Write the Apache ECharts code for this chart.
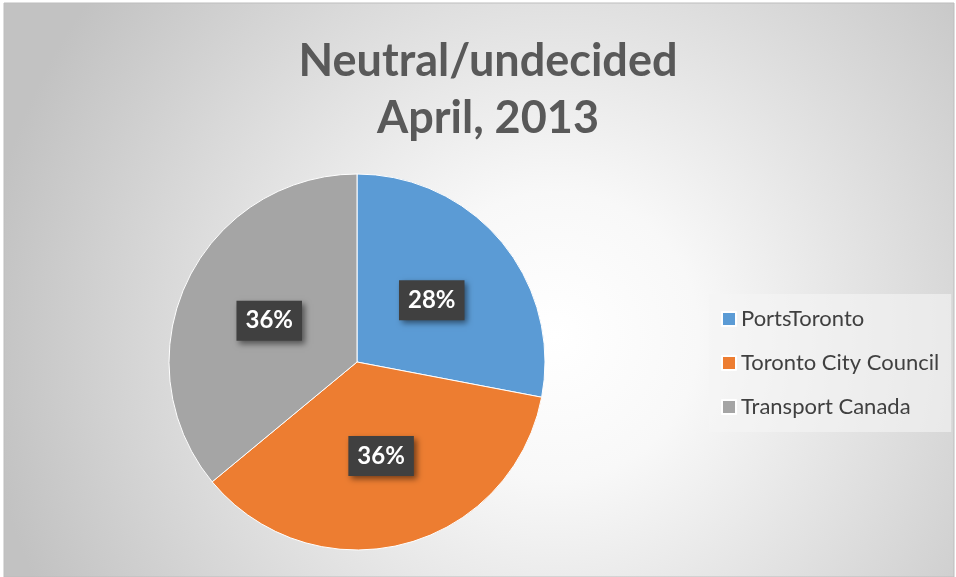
<!DOCTYPE html>
<html>
<head>
<meta charset="utf-8">
<script src="https://cdn.jsdelivr.net/npm/echarts@6/dist/echarts.min.js"></script>
<style>
	html, body { margin: 0; padding: 0; background: #ffffff; }
	#chart { width: 956px; height: 577px; }
</style>
</head>
<body>
<div id="chart"></div>
<script>
// data
const categories = ['PortsToronto', 'Toronto City Council', 'Transport Canada']
const counts = [7, 9, 9]
const colors = ['#5b9bd5', '#ed7d31', '#a5a5a5']
const titleLines = ['Neutral/undecided', 'April, 2013']

const myChart = echarts.init(document.getElementById('chart'))

const pieData = categories.map((name, i) => ({
	name: name,
	value: counts[i],
	itemStyle: { color: colors[i] }
}))

myChart.setOption({
	animation: false,
	graphic: [
		{
			type: 'rect',
			z: -10,
			shape: { x: 4, y: 3, width: 950, height: 574 },
			style: {
				fill: {
					type: 'radial',
					x: 0.58,
					y: 0.58,
					r: 1.0,
					colorStops: [
						{ offset: 0, color: '#ffffff' },
						{ offset: 0.25, color: '#f8f8f8' },
						{ offset: 1, color: '#c2c2c2' }
					]
				},
				stroke: '#bdbdbd',
				lineWidth: 1
			}
		}
	],
	title: {
		text: titleLines.join('\n'),
		left: 488,
		textAlign: 'center',
		top: 33,
		padding: 0,
		textStyle: {
			fontFamily: 'Lato',
			fontWeight: 'bold',
			fontSize: 45,
			lineHeight: 57,
			color: '#595959'
		}
	},
	legend: {
		orient: 'vertical',
		left: 709,
		top: 294,
		icon: 'rect',
		itemWidth: 14,
		itemHeight: 14,
		itemGap: 22,
		padding: [14, 12, 14, 12],
		backgroundColor: 'rgba(245,245,245,0.6)',
		textStyle: {
			fontFamily: 'Lato',
			fontSize: 22,
			color: '#404040'
		}
	},
	series: [
		{
			type: 'pie',
			center: [357, 362],
			radius: 188,
			startAngle: 90,
			clockwise: true,
			data: pieData,
			itemStyle: { borderColor: '#ffffff', borderWidth: 1 },
			label: {
				position: 'inside',
				formatter: (p) => Math.round(p.percent) + '%',
				fontFamily: 'Lato',
				fontWeight: 'bold',
				fontSize: 24,
				color: '#ffffff',
				backgroundColor: '#404040',
				padding: [9, 9, 7, 9],
				shadowColor: 'rgba(0,0,0,0.5)',
				shadowBlur: 6,
				shadowOffsetX: 3,
				shadowOffsetY: 3
			},
			labelLine: { show: false },
			emphasis: { disabled: true }
		}
	]
})
</script>
</body>
</html>
